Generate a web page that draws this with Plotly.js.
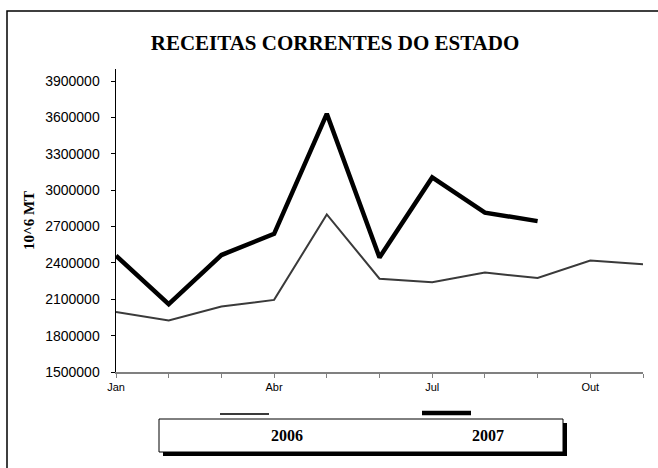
<!DOCTYPE html>
<html>
<head>
<meta charset="utf-8">
<script src="https://cdn.plot.ly/plotly-3.0.1.min.js"></script>
<style>
html,body{margin:0;padding:0;background:#fff;}
#chart{width:658px;height:468px;}
</style>
</head>
<body>
<div id="chart"></div>
<script>
var months = ['Jan','Fev','Mar','Abr','Mai','Jun','Jul','Ago','Set','Out','Nov'];
var tickLabels = ['Jan','','','Abr','','','Jul','','','Out',''];
var seriesNames = ['2006','2007'];
var values2006 = [1995000,1925000,2040000,2095000,2800000,2270000,2240000,2320000,2275000,2420000,2390000];
var values2007 = [2460000,2060000,2465000,2640000,3630000,2445000,3105000,2815000,2745000];
var yTicks = [1500000,1800000,2100000,2400000,2700000,3000000,3300000,3600000,3900000];

var W = 658, H = 468;
var mL = 116, mR = 15, mT = 69, mB = 96;
var pw = W - mL - mR, ph = H - mT - mB;
function px(x){ return (x - mL) / pw; }
function py(y){ return (H - mB - y) / ph; }

var traces = [
  {x: months.slice(0, values2006.length), y: values2006, name: seriesNames[0], type: 'scatter', mode: 'lines',
   line: {color: '#3a3a3a', width: 2}},
  {x: months.slice(0, values2007.length), y: values2007, name: seriesNames[1], type: 'scatter', mode: 'lines',
   line: {color: '#000000', width: 4.5}}
];

var shapes = [
  {type: 'rect', xref: 'paper', yref: 'paper', x0: px(7), x1: px(664), y0: py(474), y1: py(11),
   line: {color: '#000', width: 1.5}, fillcolor: 'rgba(0,0,0,0)', layer: 'below'},
  {type: 'rect', xref: 'paper', yref: 'paper', x0: px(163), x1: px(567), y0: py(456), y1: py(423),
   line: {width: 0}, fillcolor: '#000'},
  {type: 'rect', xref: 'paper', yref: 'paper', x0: px(159), x1: px(563), y0: py(452), y1: py(419),
   line: {color: '#000', width: 1}, fillcolor: '#fff'},
  {type: 'line', xref: 'paper', yref: 'paper', x0: px(220), x1: px(269), y0: py(414), y1: py(414),
   line: {color: '#3a3a3a', width: 2}},
  {type: 'line', xref: 'paper', yref: 'paper', x0: px(422), x1: px(471), y0: py(413), y1: py(413),
   line: {color: '#000', width: 4.5}}
];

var annotations = [
  {text: '<b>' + seriesNames[0] + '</b>', xref: 'paper', yref: 'paper', x: px(287), y: py(436),
   showarrow: false, xanchor: 'center', yanchor: 'middle',
   font: {family: 'Liberation Serif, Times New Roman, serif', size: 16, color: '#000'}},
  {text: '<b>' + seriesNames[1] + '</b>', xref: 'paper', yref: 'paper', x: px(488), y: py(436),
   showarrow: false, xanchor: 'center', yanchor: 'middle',
   font: {family: 'Liberation Serif, Times New Roman, serif', size: 16, color: '#000'}}
];

var layout = {
  width: W, height: H,
  margin: {l: mL, r: mR, t: mT, b: mB, pad: 0},
  paper_bgcolor: '#fff', plot_bgcolor: '#fff',
  showlegend: false,
  title: {text: '<b>RECEITAS CORRENTES DO ESTADO</b>', xref: 'container', yref: 'container',
    x: 335 / W, y: 1 - 43 / H, xanchor: 'center', yanchor: 'middle',
    font: {family: 'Liberation Serif, Times New Roman, serif', size: 21, color: '#000'}},
  xaxis: {
    type: 'category', categoryorder: 'array', categoryarray: months,
    range: [0, months.length - 1],
    tickmode: 'array', tickvals: months, ticktext: tickLabels,
    showgrid: false, zeroline: false,
    showline: true, linecolor: '#808080', linewidth: 2,
    ticks: 'outside', ticklen: 4, tickcolor: '#808080', tickwidth: 1,
    tickfont: {family: 'Liberation Sans, Arial, sans-serif', size: 11, color: '#000'},
    fixedrange: true
  },
  yaxis: {
    range: [1500000, 4000000],
    tickmode: 'array', tickvals: yTicks, ticktext: yTicks.map(String),
    showgrid: false, zeroline: false,
    showline: true, linecolor: '#000', linewidth: 1.5,
    ticks: 'outside', ticklen: 4, tickcolor: '#000', tickwidth: 1,
    ticklabelstandoff: 8,
    tickfont: {family: 'Liberation Sans, Arial, sans-serif', size: 14, color: '#000'},
    title: {text: '<b>10^6 MT</b>', standoff: 7,
      font: {family: 'Liberation Serif, Times New Roman, serif', size: 15, color: '#000'}},
    fixedrange: true
  },
  shapes: shapes,
  annotations: annotations
};

Plotly.newPlot('chart', traces, layout, {staticPlot: true, displayModeBar: false});
</script>
</body>
</html>
